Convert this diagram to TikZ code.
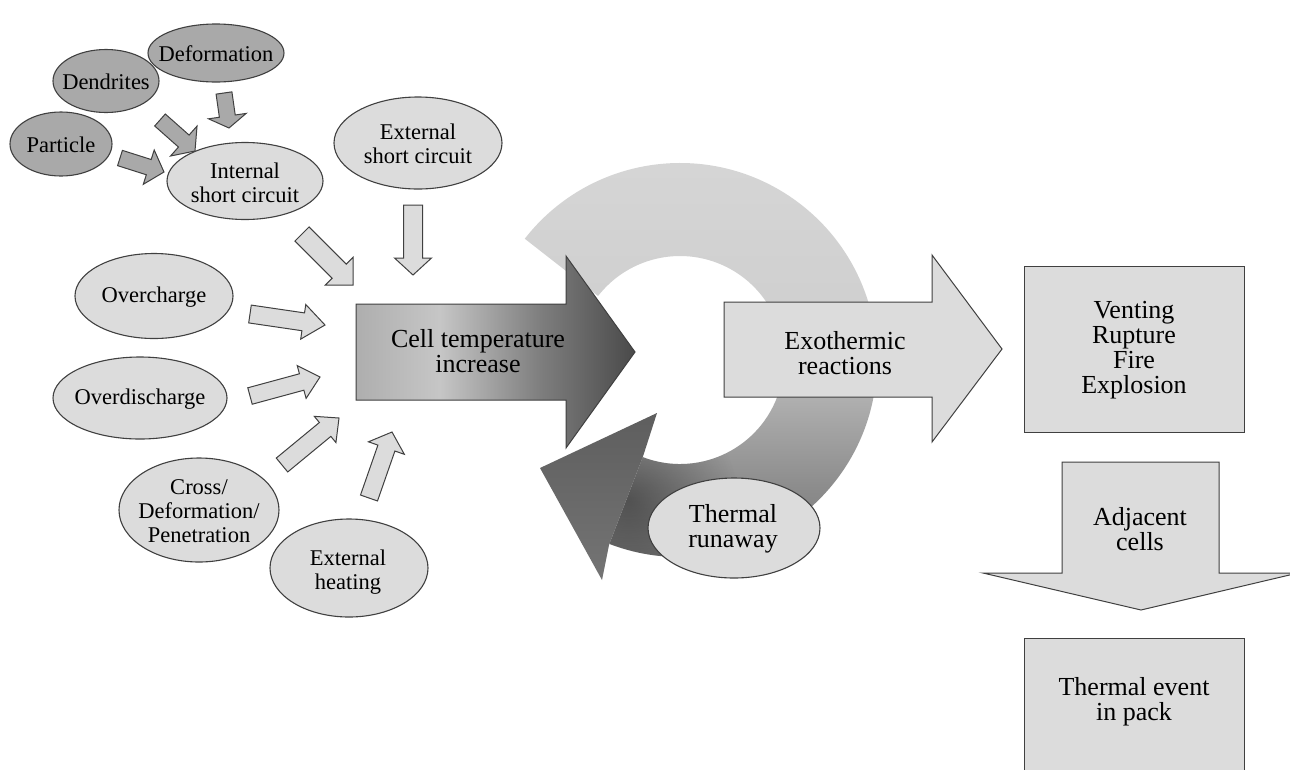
\documentclass[tikz,border=0pt]{standalone}
\usepackage{fontspec}
\setmainfont{Liberation Serif}
\usetikzlibrary{shapes.geometric,calc,fadings}

\definecolor{lightg}{HTML}{DCDCDC}
\definecolor{darkg}{HTML}{A9A9A9}
\definecolor{edge}{HTML}{404040}
% ring colours, top to bottom
\definecolor{ringA}{HTML}{D6D6D6}
\definecolor{ringB}{HTML}{CFCFCF}
\definecolor{ringC}{HTML}{ABABAB}
\definecolor{ringD}{HTML}{8C8C8C}
\definecolor{ringE}{HTML}{747474}
% ring arrowhead
\definecolor{headA}{HTML}{5E5E5E}
\definecolor{headB}{HTML}{747474}
% cell-temperature arrow, left to right
\definecolor{cellA}{HTML}{AEAEAE}
\definecolor{cellB}{HTML}{C6C6C6}
\definecolor{cellC}{HTML}{7E7E7E}
\definecolor{cellD}{HTML}{4A4A4A}

\pgfdeclareverticalshading{ringshade}{100bp}{color(0bp)=(ringE); color(25bp)=(ringE);
  color(35bp)=(ringD); color(44bp)=(ringC); color(54bp)=(ringB); color(75bp)=(ringA); color(100bp)=(ringA)}
\pgfdeclarehorizontalshading{cellshade}{100bp}{color(0bp)=(cellA); color(25bp)=(cellA);
  color(40bp)=(cellB); color(58bp)=(cellC); color(75bp)=(cellD); color(100bp)=(cellD)}
\tikzfading[name=headfade, inner color=transparent!0, outer color=transparent!100]

% block arrow: style, tail, tip, shaft half-width, head half-width, head length
\newcommand\blockarrow[6]{%
  \coordinate (ba-h) at ($(#3)!#6!(#2)$);
  \filldraw[#1] ($(#2)!#4!90:(#3)$) -- ($(ba-h)!#4!-90:(#2)$) -- ($(ba-h)!#5!-90:(#2)$)
    -- (#3) -- ($(ba-h)!#5!90:(#2)$) -- ($(ba-h)!#4!90:(#2)$) -- ($(#2)!#4!-90:(#3)$) -- cycle;
}
% body of the feedback ring (centre rc)
\newcommand\ringbody{($(rc)+(-142:197)$) arc[start angle=-142,end angle=111,radius=197]
  -- ($(rc)+(111:104)$) arc[start angle=111,end angle=-142,radius=104] -- cycle}

\begin{document}
\begin{tikzpicture}[x=1pt,y=-1pt,
  lbl/.style={font=\fontsize{22.5}{24}\selectfont, align=center, inner sep=0pt},
  big/.style={font=\fontsize{26}{25}\selectfont, align=center, inner sep=0pt},
  ell/.style={ellipse, draw=edge, line width=1.1pt, inner sep=0pt},
  lightell/.style={ell, fill=lightg},
  darkell/.style={ell, fill=darkg},
  lightarr/.style={fill=lightg, draw=edge, line width=1pt, line join=miter},
  darkarr/.style={fill=darkg, draw=edge, line width=1pt, line join=miter},
  boxed/.style={fill=lightg, draw=edge, line width=1pt}]

\useasboundingbox (0,0) rectangle (1290,769);
\fill[white] (0,0) rectangle (1290,769);
\clip (0,0) rectangle (1290,769);

% feedback ring with its arrowhead
\coordinate (rc) at (680,360);
\shade[shading=ringshade] \ringbody;
\begin{scope}
  \clip \ringbody;
  \fill[black, fill opacity=0.4, path fading=headfade] (628,500) circle[radius=110];
\end{scope}
\shade[top color=headA, bottom color=headB]
  ($(rc)+(111:198)$) -- (602,580) -- (540,468) -- (657,413) -- ($(rc)+(111:103)$) -- cycle;

% cell temperature increase
\shadedraw[shading=cellshade, draw=edge, line width=1pt]
  (356,304) -- (566,304) -- (566,256) -- (635,352) -- (566,448) -- (566,400) -- (356,400) -- cycle;
\node[big] (cell) at (478,351) {Cell temperature\\increase};

% exothermic reactions
\filldraw[boxed] (724,302) -- (932,302) -- (932,255) -- (1002,349) -- (932,442) -- (932,397) -- (724,397) -- cycle;
\node[big] (exo) at (845,353) {Exothermic\\reactions};

% thermal runaway
\node[lightell, minimum width=172pt, minimum height=100pt] (tr) at (734,528) {};
\node[big] (tr-t) at (733,529) {Thermal\\runaway};

% consequences
\filldraw[boxed] (1024,266) rectangle (1244,432);
\node[big] (vent) at (1134,350) {Venting\\Rupture\\Fire\\Explosion};
\filldraw[boxed] (1062,462) -- (1219,462) -- (1219,573) -- (1298,573) -- (1141,610) -- (983,573) -- (1062,573) -- cycle;
\node[big] (adj) at (1140,529) {Adjacent\\cells};
\filldraw[boxed] (1024,638) rectangle (1244,800);
\node[big] (pack) at (1134,702) {Thermal event\\in pack};

% internal short circuit causes
\node[darkell, minimum width=136pt, minimum height=58pt] (deform) at (216,53) {};
\node[lbl] (deform-t) at (216,54) {Deformation};
\node[darkell, minimum width=106pt, minimum height=63pt] (dend) at (106,81) {};
\node[lbl] (dend-t) at (106,82) {Dendrites};
\node[darkell, minimum width=102pt, minimum height=64pt] (part) at (61,144) {};
\node[lbl] (part-t) at (61,145) {Particle};
\node[lightell, minimum width=156pt, minimum height=77pt] (isc) at (245,181) {};
\node[lbl] (isc-t) at (245,183) {Internal\\short circuit};

\coordinate (deform-a) at (224,93);   \coordinate (deform-b) at (229,128);
\coordinate (dend-a) at (160,120);    \coordinate (dend-b) at (195,151);
\coordinate (part-a) at (120,158);    \coordinate (part-b) at (164,172);
\blockarrow{darkarr}{deform-a}{deform-b}{8pt}{19pt}{12pt}
\blockarrow{darkarr}{dend-a}{dend-b}{8pt}{20pt}{15pt}
\blockarrow{darkarr}{part-a}{part-b}{8pt}{18pt}{16pt}

% other causes
\node[lightell, minimum width=168pt, minimum height=92pt] (esc) at (418,143) {};
\node[lbl] (esc-t) at (418,144) {External\\short circuit};
\node[lightell, minimum width=158pt, minimum height=85pt] (over) at (154,296) {};
\node[lbl] (over-t) at (154,297) {Overcharge};
\node[lightell, minimum width=174pt, minimum height=82pt] (odis) at (140,398) {};
\node[lbl] (odis-t) at (140,399) {Overdischarge};
\node[lightell, minimum width=160pt, minimum height=104pt] (cross) at (199,510) {};
\node[lbl] (cross-t) at (199,511) {Cross/\\Deformation/\\Penetration};
\node[lightell, minimum width=158pt, minimum height=98pt] (heat) at (349,568) {};
\node[lbl] (heat-t) at (348,572) {External\\heating};

\coordinate (isc-a) at (302,234);   \coordinate (isc-b) at (353,285);
\coordinate (esc-a) at (413,205);   \coordinate (esc-b) at (413,275);
\coordinate (over-a) at (250,314);  \coordinate (over-b) at (325,325);
\coordinate (odis-a) at (250,396);  \coordinate (odis-b) at (320,377);
\coordinate (cross-a) at (282,465); \coordinate (cross-b) at (339,418);
\coordinate (heat-a) at (369,498);  \coordinate (heat-b) at (392,432);
\blockarrow{lightarr}{isc-a}{isc-b}{10pt}{19.5pt}{19.5pt}
\blockarrow{lightarr}{esc-a}{esc-b}{9.5pt}{18.5pt}{17pt}
\blockarrow{lightarr}{over-a}{over-b}{9pt}{17.5pt}{22pt}
\blockarrow{lightarr}{odis-a}{odis-b}{8.5pt}{17pt}{19pt}
\blockarrow{lightarr}{cross-a}{cross-b}{9pt}{17pt}{18pt}
\blockarrow{lightarr}{heat-a}{heat-b}{9pt}{19pt}{17pt}
\end{tikzpicture}
\end{document}
